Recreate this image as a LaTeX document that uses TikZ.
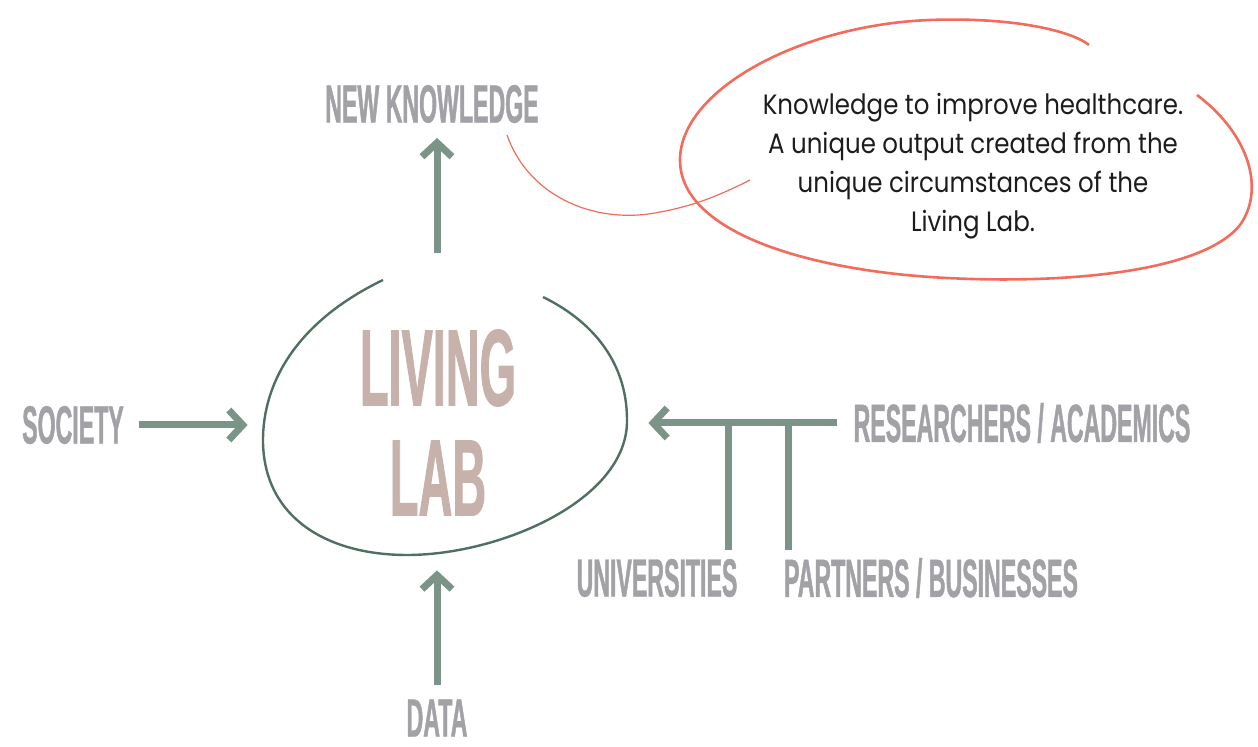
\documentclass[tikz,border=0pt]{standalone}
\usepackage{fontspec}
\usetikzlibrary{arrows.meta}
\newfontfamily\labelfont[FakeStretch=0.43,FakeBold=0.8]{Liberation Sans}
\newfontfamily\notefont[FakeStretch=0.875]{Poppins}
\definecolor{labelgrey}{HTML}{A1A1A6}
\definecolor{arrowgreen}{HTML}{7A9488}
\definecolor{blobgreen}{HTML}{4F6F5F}
\definecolor{labpink}{HTML}{C6B1AB}
\definecolor{notered}{HTML}{F26B5B}
\definecolor{notetext}{HTML}{1C1C1C}
\tikzset{
  tag/.style={font=\labelfont\bfseries\fontsize{26.9pt}{30pt}\selectfont, text=labelgrey, inner sep=0pt},
  flow/.style={draw=arrowgreen, line width=3.5pt, -{Straight Barb[length=7pt,width=15pt]}},
  feed/.style={draw=arrowgreen, line width=3.5pt},
}
\begin{document}
\begin{tikzpicture}[x=0.5pt, y=-0.5pt]
  \useasboundingbox (0,0) rectangle (1258,747);
  % the living lab
  \node (lab) [minimum width=200pt, minimum height=158.5pt, inner sep=0pt] at (448,411.5) {};
  \node (title) [align=center, inner sep=0pt, text=labpink,
    font=\labelfont\bfseries\fontsize{54.5pt}{55pt}\selectfont] at (438,422.5) {LIVING\\LAB};
  \draw[blobgreen, line width=1.2pt] (383,280) .. controls (300,320) and (262,380) .. (263,443)
    .. controls (265,520) and (330,555) .. (407,555)
    .. controls (500,555) and (628,500) .. (627,420)
    .. controls (627,360) and (590,320) .. (543,297);
  % labels
  \node[tag] (know) at (432,104) {NEW KNOWLEDGE};
  \node[tag] (soc) at (73,425) {SOCIETY};
  \node[tag] (data) at (437,718) {DATA};
  \node[tag] (res) at (1022,423) {RESEARCHERS / ACADEMICS};
  \node[tag] (uni) at (657,578) {UNIVERSITIES};
  \node[tag] (part) at (931,578) {PARTNERS / BUSINESSES};
  % arrows
  \draw[flow, shorten >=7.25pt] (lab.north -| data) -- (know.south -| data);
  \draw[flow, shorten <=7.25pt] (data.north) -- (lab.south -| data);
  \draw[flow, shorten <=7.25pt] (soc.east) -- (soc.east -| lab.west);
  \draw[flow, shorten <=8pt] (res.west) -- (res.west -| lab.east);
  \coordinate (u1) at (728,550);
  \coordinate (p1) at (788,550);
  \draw[feed] (u1) -- (u1 |- res.west);
  \draw[feed] (p1) -- (p1 |- res.west);
  % callout
  \draw[notered, line width=1.3pt] (1197,95) .. controls (1250,135) and (1265,190) .. (1240,225)
    .. controls (1200,275) and (1050,285) .. (930,277)
    .. controls (800,268) and (680,230) .. (680,160)
    .. controls (680,90) and (800,25) .. (930,20)
    .. controls (1010,17) and (1070,30) .. (1089,45);
  \draw[notered, line width=0.6pt] (507,135) .. controls (530,200) and (600,225) .. (660,212)
    .. controls (700,205) and (730,190) .. (750,180);
  \node (note) [align=center, inner sep=0pt, text=notetext,
    font=\notefont\fontsize{14pt}{19.5pt}\selectfont] at (973,166)
    {Knowledge to improve healthcare.\\A unique output created from the\\unique circumstances of the\\Living Lab.};
\end{tikzpicture}
\end{document}
